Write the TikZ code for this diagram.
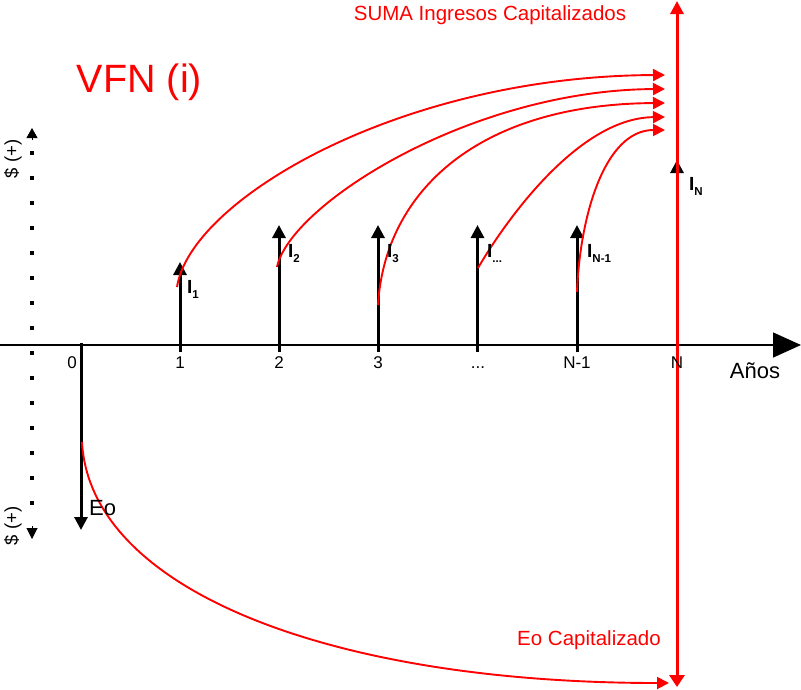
\documentclass[tikz,border=0pt]{standalone}
\usepackage{fontspec}
\setmainfont{Liberation Sans}
\usetikzlibrary{arrows.meta}
\definecolor{capred}{RGB}{255, 0, 0}
\definecolor{ink}{RGB}{0, 0, 0}
\def\yaxis{345}
\def\ybase{368}
\def\ytop{225}
\newcommand{\isub}[1]{\raisebox{-5pt}{\fontsize{11.5}{11.5}\selectfont #1}}

\begin{document}
\begin{tikzpicture}[x=1pt, y=-1pt,
    flow/.style={ink, line width=3pt, -{Triangle[length=13pt, width=13pt]}},
    capflow/.style={capred, line width=1.9pt, -{Triangle[length=12pt, width=12pt]}},
    lbl/.style={font=\fontsize{17}{17}\selectfont, anchor=base, inner sep=0pt},
    inc/.style={font=\fontsize{19}{19}\selectfont\bfseries, anchor=base west, inner sep=0pt},
    note/.style={capred, font=\fontsize{20.5}{20.5}\selectfont, anchor=base, inner sep=0pt}]

                 \useasboundingbox (0, 0) rectangle (801, 689);

                 % time axis
                 \coordinate (axl) at (0, \yaxis);
                 \coordinate (axr) at (801, \yaxis);
                 \draw[ink, line width=1.4pt, -{Triangle[length=28pt, width=25pt]}] (axl) -- (axr);

                 % money axis
                 \coordinate (mt) at (32, 151);
                 \coordinate (mb) at (32, 507);
                 \coordinate (mtb) at (32, 140);
                 \coordinate (mtt) at (32, 128);
                 \coordinate (mbt) at (32, 526);
                 \coordinate (mbb) at (32, 539);
                 \draw[ink, line width=4pt, dash pattern=on 4pt off 21pt] (mt) -- (mb);
                 \draw[ink, line width=1pt, -{Triangle[length=10pt, width=11pt]}] (mtb) -- (mtt);
                 \draw[ink, line width=1pt, -{Triangle[length=11pt, width=11pt]}] (mbt) -- (mbb);

                 % cash flows
                 \coordinate (f0) at (81, 343);
                 \coordinate (f1) at (180, 352);
                 \coordinate (f2) at (279, 352);
                 \coordinate (f3) at (378, 352);
                 \coordinate (f4) at (477.5, 352);
                 \coordinate (f5) at (577, 352);
                 \coordinate (fn) at (677, 352);
                 \coordinate (e0) at (81, 530);
                 \coordinate (e1) at (180, 262);
                 \coordinate (e2) at (279, \ytop);
                 \coordinate (e3) at (378, \ytop);
                 \coordinate (e4) at (477.5, \ytop);
                 \coordinate (e5) at (577, \ytop);
                 \coordinate (en) at (677, 160);
                 \draw[flow] (f0) -- (e0);
                 \draw[flow] (f1) -- (e1);
                 \draw[flow] (f2) -- (e2);
                 \draw[flow] (f3) -- (e3);
                 \draw[flow] (f4) -- (e4);
                 \draw[flow] (f5) -- (e5);
                 \draw[flow] (fn) -- (en);

                 % capitalization
                 \coordinate (s1) at (177, 287);
                 \coordinate (s2) at (277, 267);
                 \coordinate (s3) at (378, 305);
                 \coordinate (s4) at (478, 268);
                 \coordinate (s5) at (577, 292);
                 \coordinate (s0) at (82, 442);
                 \coordinate (c1) at (665, 75);
                 \coordinate (c2) at (665, 89);
                 \coordinate (c3) at (665, 103);
                 \coordinate (c4) at (665, 117);
                 \coordinate (c5) at (665, 130);
                 \coordinate (c0) at (669, 683);
                 \draw[capflow] (s1) .. controls (190, 200) and (400, 76) .. (c1);
                 \draw[capflow] (s2) .. controls (290, 205) and (470, 90) .. (c2);
                 \draw[capflow] (s3) .. controls (385, 190) and (480, 104) .. (c3);
                 \draw[capflow] (s4) .. controls (500, 230) and (575, 118) .. (c4);
                 \draw[capflow] (s5) .. controls (580, 215) and (605, 130) .. (c5);
                 \draw[capflow] (s0) .. controls (90, 590) and (330, 683) .. (c0);

                 \coordinate (vt) at (677, 1);
                 \coordinate (vb) at (677, 687);
                 \draw[capred, line width=3pt, {Triangle[length=13pt, width=13pt]}-{Triangle[length=12pt, width=15pt]}] (vt) -- (vb);

                 % labels
                 \node[lbl] (l0) at (72, \ybase) {0};
                 \node[lbl] (l1) at (180, \ybase) {1};
                 \node[lbl] (l2) at (279, \ybase) {2};
                 \node[lbl] (l3) at (378, \ybase) {3};
                 \node[lbl] (l4) at (478, \ybase) {...};
                 \node[lbl] (l5) at (577, \ybase) {N-1};
                 \node[lbl] (ln) at (677, \ybase) {N};
                 \node[lbl, font=\fontsize{22}{22}\selectfont] (years) at (755, 378) {Años};

                 \node[lbl, font=\fontsize{22}{22}\selectfont, anchor=base west] (eo) at (89, 515) {Eo};
                 \node[inc] (i1) at (187, 293) {I\isub{1}};
                 \node[inc] (i2) at (288, 257) {I\isub{2}};
                 \node[inc] (i3) at (387, 257) {I\isub{3}};
                 \node[inc] (i4) at (487, 257) {I\isub{...}};
                 \node[inc] (i5) at (587, 257) {I\isub{N-1}};
                 \node[inc] (in) at (689, 190) {I\isub{N}};

                 \node[lbl, font=\fontsize{18.5}{18.5}\selectfont, rotate=90, anchor=center] (mp) at (13, 159) {\$ (+)};
                 \node[lbl, font=\fontsize{18.5}{18.5}\selectfont, rotate=90, anchor=center] (mn) at (13, 526) {\$ (+)};

                 \node[note] (suma) at (490, 20) {SUMA Ingresos Capitalizados};
                 \node[note] (eocap) at (589, 645) {Eo Capitalizado};
                 \node[note, font=\fontsize{39.5}{39.5}\selectfont] (vfn) at (139.5, 92) {VFN (i)};

             \end{tikzpicture}
\end{document}
